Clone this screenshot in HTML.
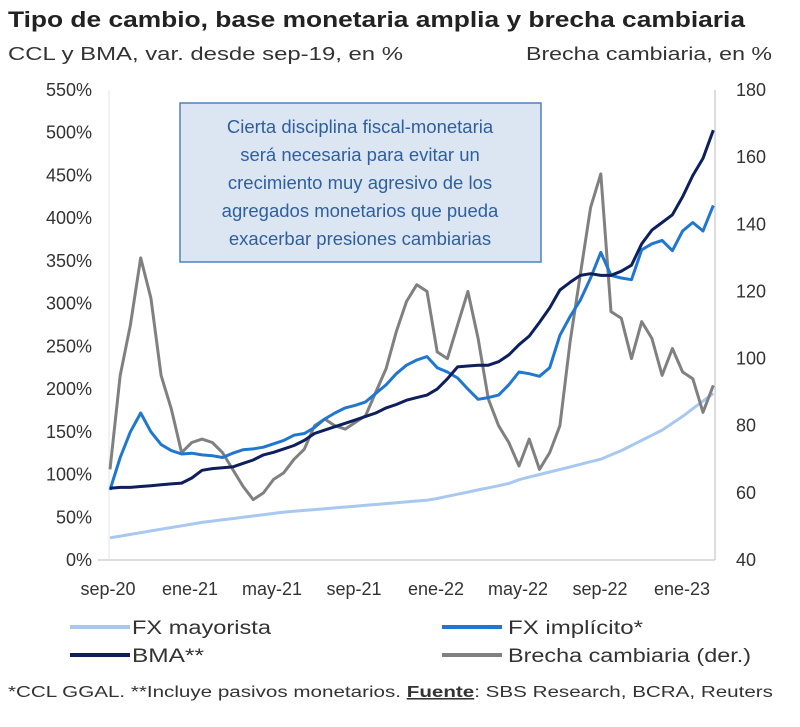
<!DOCTYPE html>
<html><head><meta charset="utf-8"><style>
body{margin:0;background:#fff;font-family:"Liberation Sans",sans-serif;}
svg text{font-family:"Liberation Sans",sans-serif;}
</style></head><body>
<svg id="c" width="800" height="722" viewBox="0 0 800 722">
<text x="8" y="27" font-size="22" font-weight="bold" fill="#222" textLength="737" lengthAdjust="spacingAndGlyphs">Tipo de cambio, base monetaria amplia y brecha cambiaria</text>
<text x="8" y="60" font-size="18" fill="#333" textLength="395" lengthAdjust="spacingAndGlyphs">CCL y BMA, var. desde sep-19, en %</text>
<text x="526" y="60" font-size="18" fill="#333" textLength="246" lengthAdjust="spacingAndGlyphs">Brecha cambiaria, en %</text>
<g id="axes"></g><g id="series"></g>
<rect x="180" y="103" width="361" height="159" fill="#dce6f2" stroke="#4f81bd" stroke-width="1.5"/>
<g font-size="18.5" fill="#2e5f9e" text-anchor="middle">
<text x="360" y="133">Cierta disciplina fiscal-monetaria</text>
<text x="360" y="161">será necesaria para evitar un</text>
<text x="360" y="189">crecimiento muy agresivo de los</text>
<text x="360" y="217">agregados monetarios que pueda</text>
<text x="360" y="245">exacerbar presiones cambiarias</text>
</g>
<g font-size="19" fill="#333">
<line x1="70" y1="627" x2="130" y2="627" stroke="#a9c8f0" stroke-width="4"/>
<text x="132" y="634" textLength="139" lengthAdjust="spacingAndGlyphs">FX mayorista</text>
<line x1="442" y1="627" x2="502" y2="627" stroke="#1f77d0" stroke-width="4"/>
<text x="508" y="634" textLength="135" lengthAdjust="spacingAndGlyphs">FX implícito*</text>
<line x1="70" y1="655" x2="130" y2="655" stroke="#0d1f5c" stroke-width="4"/>
<text x="132" y="662" textLength="72" lengthAdjust="spacingAndGlyphs">BMA**</text>
<line x1="442" y1="655" x2="502" y2="655" stroke="#808080" stroke-width="4"/>
<text x="508" y="662" textLength="243" lengthAdjust="spacingAndGlyphs">Brecha cambiaria (der.)</text>
</g>
<text x="8" y="697" font-size="15.5" fill="#333" textLength="765" lengthAdjust="spacingAndGlyphs">*CCL GGAL. **Incluye pasivos monetarios. <tspan font-weight="bold" text-decoration="underline">Fuente</tspan>: SBS Research, BCRA, Reuters</text>
</svg>
<script>
const xLabels=["sep-20","ene-21","may-21","sep-21","ene-22","may-22","sep-22","ene-23"];
const leftTicks=[0,50,100,150,200,250,300,350,400,450,500,550];
const rightTicks=[40,60,80,100,120,140,160,180];
const fxMayorista=[26,28,30,32,34,36,38,40,42,44,45.5,47,48.5,50,51.5,53,54.5,56,57,58,59,60,61,62,63,64,65,66,67,68,69,70,72,74.5,77,79.5,82,84.5,87,89.5,94,97,100,103,106,109,112,115,118,123,128,134,140,146,152,160,168,177,186,195];
const bma=[84,85,85,86,87,88,89,90,96,105,107,108,109,113,117,123,126,130,134,140,148,152,156,160,164,168,172,178,182,187,190,193,200,212,226,227,228,228,232,240,252,262,278,295,316,325,333,335,333,333,338,345,370,386,395,404,425,450,470,503];
const fxImplicito=[82,120,150,172,150,135,128,124,125,123,122,120,125,129,130,132,136,140,146,148,155,165,172,178,181,185,195,205,218,228,234,238,225,220,213,200,188,190,193,205,220,218,215,225,263,285,304,330,360,333,330,328,363,370,374,362,385,395,385,415];
const brecha=[67,95,110,130,118,95,85,72,75,76,75,72,67,62,58,60,64,66,70,73,80,82,80,79,81,83,90,97,108,117,122,120,102,100,110,120,106,88,80,75,68,76,67,72,80,105,125,145,155,114,112,100,111,106,95,103,96,94,84,92];
const NS="http://www.w3.org/2000/svg";
const X0=110,MW=20.45,Y0=560,H=470;
const xM=m=>X0+m*MW;
const yL=v=>Y0-v/550*H;
const yR=v=>Y0-(v-40)/140*H;
const ax=document.getElementById('axes'),sg=document.getElementById('series');
function mk(tag,attrs,parent){const e=document.createElementNS(NS,tag);for(const k in attrs)e.setAttribute(k,attrs[k]);parent.appendChild(e);return e;}
let l=mk('line',{x1:98,x2:715,y1:Y0,y2:Y0,stroke:'#bbb','stroke-width':1},ax);


l=mk('line',{x1:109,x2:109,y1:90,y2:Y0,stroke:'#e4e4e4','stroke-width':1},ax);


l=mk('line',{x1:715,x2:715,y1:90,y2:Y0,stroke:'#bbb','stroke-width':1},ax);


leftTicks.forEach(v=>{const t=mk('text',{x:92,y:yL(v)+6,'font-size':18,fill:'#333','text-anchor':'end'},ax);t.textContent=v+'%';

});
rightTicks.forEach(v=>{const t=mk('text',{x:736,y:yR(v)+6,'font-size':18,fill:'#333'},ax);t.textContent=v;

});
xLabels.forEach((s,i)=>{const t=mk('text',{x:108+i*82,y:595,'font-size':18,fill:'#333','text-anchor':'middle'},ax);t.textContent=s;

});
function line(data,yf,color,w,name){const d=data.map((v,i)=>(i?'L':'M')+xM(i*0.5).toFixed(1)+','+yf(v).toFixed(1)).join('');
const p=mk('path',{d:d,fill:'none',stroke:color,'stroke-width':w,'stroke-linejoin':'round'},sg);

}
line(fxMayorista,yL,'#a9c8f0',3,'fx-mayorista-line');
line(brecha,yR,'#808080',3,'brecha-line');
line(fxImplicito,yL,'#1f77d0',3,'fx-implicito-line');
line(bma,yL,'#0d1f5c',3,'bma-line');
</script>
</body></html>
